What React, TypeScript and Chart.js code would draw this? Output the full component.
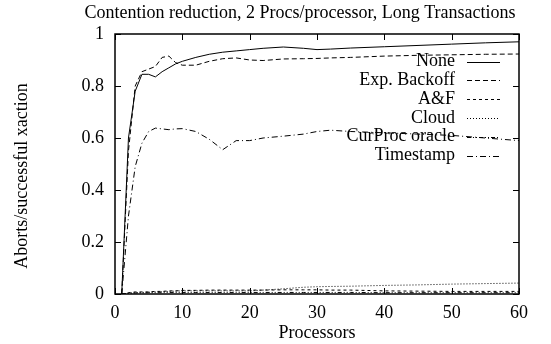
import React, { useEffect, useRef } from "react";
import { Chart, registerables } from "chart.js";

Chart.register(...registerables);

const processors = [1, 2, 3, 4, 5, 6, 7, 8, 9, 10, 12, 14, 16, 18, 20, 22, 25, 28, 30, 32, 35, 40, 45, 50, 55, 60];
const noneVals = [0, 0.6, 0.78, 0.845, 0.845, 0.835, 0.855, 0.87, 0.885, 0.895, 0.91, 0.922, 0.93, 0.935, 0.94, 0.945, 0.95, 0.945, 0.94, 0.942, 0.946, 0.951, 0.956, 0.961, 0.966, 0.97];
const expBackoffVals = [0, 0.55, 0.8, 0.855, 0.865, 0.875, 0.91, 0.915, 0.89, 0.88, 0.88, 0.895, 0.905, 0.908, 0.9, 0.898, 0.904, 0.905, 0.906, 0.908, 0.91, 0.915, 0.918, 0.92, 0.922, 0.923];
const afVals = [0, 0.005, 0.008, 0.008, 0.008, 0.01, 0.01, 0.012, 0.012, 0.014, 0.014, 0.015, 0.015, 0.015, 0.015, 0.015, 0.016, 0.016, 0.016, 0.015, 0.015, 0.012, 0.011, 0.01, 0.01, 0.01];
const cloudVals = [0, 0.003, 0.005, 0.006, 0.007, 0.008, 0.009, 0.01, 0.011, 0.012, 0.012, 0.012, 0.012, 0.012, 0.012, 0.015, 0.02, 0.026, 0.028, 0.029, 0.03, 0.033, 0.035, 0.038, 0.04, 0.042];
const curProcVals = [0, 0.003, 0.004, 0.004, 0.005, 0.005, 0.005, 0.006, 0.006, 0.006, 0.006, 0.006, 0.006, 0.006, 0.006, 0.006, 0.006, 0.006, 0.006, 0.006, 0.006, 0.005, 0.005, 0.005, 0.005, 0.005];
const timestampVals = [0, 0.3, 0.49, 0.58, 0.625, 0.638, 0.635, 0.632, 0.635, 0.636, 0.625, 0.595, 0.555, 0.59, 0.59, 0.6, 0.607, 0.615, 0.625, 0.63, 0.625, 0.62, 0.615, 0.61, 0.6, 0.59];

const seriesNames = ["None", "Exp. Backoff", "A&F", "Cloud", "CurProc oracle", "Timestamp"];
const seriesValues = [noneVals, expBackoffVals, afVals, cloudVals, curProcVals, timestampVals];
const seriesDash: number[][] = [[], [5, 3], [3, 3], [1, 2], [4, 2, 1, 2, 1, 2], [6, 3, 1, 3]];

const titleText = "Contention reduction, 2 Procs/processor, Long Transactions";
const xTitle = "Processors";
const yTitle = "Aborts/successful xaction";

const FONT = "'Liberation Serif', 'Times New Roman', serif";
const FS = 18;

const framePlugin = {
  id: "framePlugin",
  afterDatasetsDraw(chart: any) {
    const { ctx, chartArea, scales } = chart;
    const { left, right, top, bottom } = chartArea;
    ctx.save();
    ctx.strokeStyle = "#000";
    ctx.lineWidth = 1.5;
    ctx.setLineDash([]);
    ctx.strokeRect(left, top, right - left, bottom - top);
    ctx.lineWidth = 1;
    const tl = 6;
    scales.x.ticks.forEach((t: any) => {
      const px = Math.round(scales.x.getPixelForValue(t.value)) + 0.5;
      ctx.beginPath();
      ctx.moveTo(px, bottom);
      ctx.lineTo(px, bottom - tl);
      ctx.moveTo(px, top);
      ctx.lineTo(px, top + tl);
      ctx.stroke();
    });
    scales.y.ticks.forEach((t: any) => {
      const py = Math.round(scales.y.getPixelForValue(t.value)) + 0.5;
      ctx.beginPath();
      ctx.moveTo(left, py);
      ctx.lineTo(left + tl, py);
      ctx.moveTo(right, py);
      ctx.lineTo(right - tl, py);
      ctx.stroke();
    });
    // title
    ctx.fillStyle = "#000";
    ctx.font = `${FS}px ${FONT}`;
    ctx.textAlign = "center";
    ctx.textBaseline = "middle";
    ctx.fillText(titleText, 300, 13);
    // y-axis title
    ctx.save();
    ctx.translate(22, 176);
    ctx.rotate(-Math.PI / 2);
    ctx.fillText(yTitle, 0, 0);
    ctx.restore();
    // legend
    const textRight = 455;
    const sx0 = 467;
    const sx1 = 500;
    const y0 = 61.5;
    const dy = 18.8;
    chart.data.datasets.forEach((ds: any, i: number) => {
      const y = y0 + i * dy;
      ctx.textAlign = "right";
      ctx.fillStyle = "#000";
      ctx.fillText(ds.label, textRight, y);
      ctx.beginPath();
      ctx.setLineDash(ds.borderDash || []);
      ctx.lineWidth = 1;
      ctx.moveTo(sx0, Math.round(y) + 0.5);
      ctx.lineTo(sx1, Math.round(y) + 0.5);
      ctx.stroke();
    });
    ctx.restore();
  },
};

export default function App() {
  const ref = useRef<HTMLCanvasElement>(null);
  useEffect(() => {
    document.body.style.margin = "0";
    const datasets = seriesNames.map((name, i) => ({
      label: name,
      data: processors.map((p, j) => ({ x: p, y: seriesValues[i][j] })),
      borderColor: "#000",
      backgroundColor: "#000",
      borderWidth: 1,
      borderDash: seriesDash[i],
      pointRadius: 0,
      tension: 0,
      fill: false,
    }));
    const chart = new Chart(ref.current!, {
      type: "line",
      data: { datasets },
      options: {
        animation: false,
        responsive: false,
        maintainAspectRatio: false,
        layout: { padding: { top: 34, right: 32, left: 0, bottom: 0 } },
        plugins: { legend: { display: false }, tooltip: { enabled: false }, title: { display: false } },
        scales: {
          x: {
            type: "linear",
            min: 0,
            max: 60,
            ticks: { stepSize: 10, color: "#000", font: { family: FONT, size: FS }, padding: 8, maxRotation: 0 },
            grid: { display: false, drawTicks: false },
            border: { display: false },
            title: { display: true, text: xTitle, color: "#000", font: { family: FONT, size: FS }, padding: { top: 0, bottom: 0 } },
            afterFit: (s: any) => {
              s.height = 50;
            },
          },
          y: {
            type: "linear",
            min: 0,
            max: 1,
            ticks: {
              stepSize: 0.2,
              color: "#000",
              font: { family: FONT, size: FS },
              padding: 11,
              callback: (v: any) => String(Number(Number(v).toFixed(1))),
            },
            grid: { display: false, drawTicks: false },
            border: { display: false },
            title: { display: false, text: yTitle },
            afterFit: (s: any) => {
              s.width = 115;
            },
          },
        },
      },
      plugins: [framePlugin],
    });
    return () => chart.destroy();
  }, []);
  return (
    <div style={{ position: "absolute", left: 0, top: 0, width: 551, height: 344, background: "#fff" }}>
      <canvas ref={ref} width={551} height={344} style={{ width: 551, height: 344 }} />
    </div>
  );
}
